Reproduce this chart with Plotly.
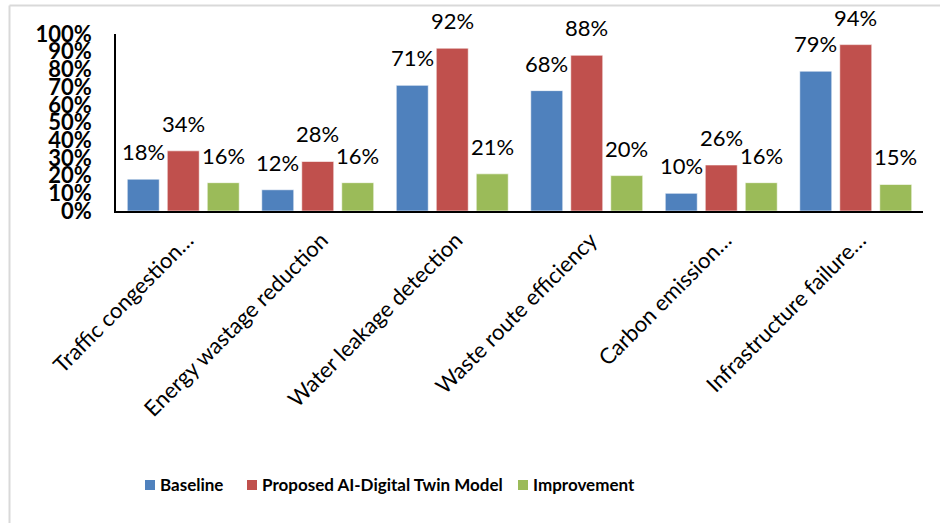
import plotly.graph_objects as go

categories = ["Traffic congestion…", "Energy wastage reduction", "Water leakage detection",
              "Waste route efficiency", "Carbon emission…", "Infrastructure failure…"]
series_names = ["Baseline", "Proposed AI-Digital Twin Model", "Improvement"]
baseline = [18, 12, 71, 68, 10, 79]
proposed = [34, 28, 92, 88, 26, 94]
improvement = [16, 16, 21, 20, 16, 15]
colors = ["#4F81BD", "#C0504D", "#9BBB59"]
y_ticks = list(range(0, 101, 10))

FONT = "Lato"
W, H = 940, 523
L, R, T, B = 116, 17, 34, 312
BARGAP = 0.108

fig = go.Figure()
all_series = [baseline, proposed, improvement]
for name, vals, col in zip(series_names, all_series, colors):
    fig.add_trace(go.Bar(
        x=categories, y=vals, name=name, showlegend=False,
        marker=dict(color=col, line=dict(color="rgba(255,255,255,0.6)", width=1)),
    ))

slot = (1 - BARGAP) / 3
annotations = []
for si, vals in enumerate(all_series):
    off = (si - 1) * slot
    for ci, v in enumerate(vals):
        annotations.append(dict(
            x=ci + off, y=v, xref="x", yref="y", text=f"{v}%",
            showarrow=False, yanchor="bottom", xanchor="center", yshift=12,
            font=dict(family=FONT, size=22, color="#000000"),
        ))

pw = W - L - R
ph = H - T - B
def px_x(p):
    return (p - L) / pw
def px_y(p):
    return (H - B - p) / ph

shapes = [
    dict(type="line", xref="paper", yref="paper", x0=px_x(9.5), x1=px_x(945), y0=px_y(5.5), y1=px_y(5.5),
         line=dict(color="#D9D9D9", width=2)),
    dict(type="line", xref="paper", yref="paper", x0=px_x(9.5), x1=px_x(9.5), y0=px_y(5.5), y1=px_y(530),
         line=dict(color="#D9D9D9", width=2)),
]

# manual legend (square swatch + bold label)
legend_sq_x = [145, 247, 518]
legend_y = 485
for name, col, sx in zip(series_names, colors, legend_sq_x):
    shapes.append(dict(type="rect", xref="paper", yref="paper",
                       x0=px_x(sx), x1=px_x(sx + 10), y0=px_y(legend_y - 5), y1=px_y(legend_y + 5),
                       fillcolor=col, line=dict(width=0)))
    annotations.append(dict(x=px_x(sx + 13), y=px_y(legend_y), xref="paper", yref="paper",
                            text=name, showarrow=False, xanchor="left", yanchor="middle",
                            font=dict(family=FONT, size=17, color="#000000", weight="bold")))

fig.update_layout(
    width=W, height=H,
    margin=dict(l=L, r=R, t=T, b=B, pad=0),
    paper_bgcolor="white", plot_bgcolor="white",
    barmode="group", bargap=BARGAP, bargroupgap=0.2,
    font=dict(family=FONT, color="#000000"),
    annotations=annotations,
    shapes=shapes,
    showlegend=False,
    xaxis=dict(
        type="category", showline=True, linecolor="#000000", linewidth=1.5,
        ticks="", tickangle=-45, showgrid=False,
        tickfont=dict(family=FONT, size=22, color="#000000"),
        ticklabelstandoff=6, ticklabelshift=4,
        range=[-0.5, 5.5],
    ),
    yaxis=dict(
        range=[0, 100], tickvals=y_ticks, ticktext=[f"{t}%" for t in y_ticks],
        showline=True, linecolor="#000000", linewidth=1.5, showgrid=False, zeroline=False,
        ticks="", ticklabelstandoff=18,
        tickfont=dict(family=FONT, size=22, color="#000000", weight="bold"),
    ),
)

fig.write_html("out.html")
